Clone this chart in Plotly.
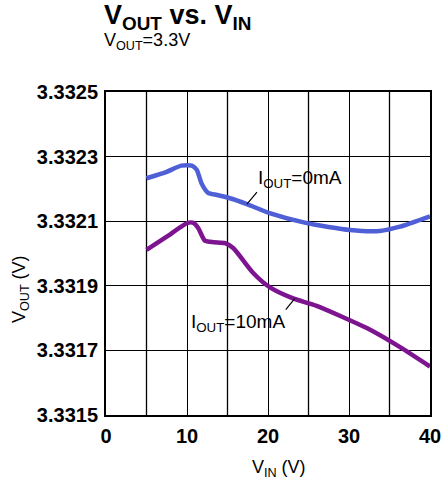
import plotly.graph_objects as go

vin_0mA = [5.0, 7.5, 9.3, 10.6, 11.2, 11.8, 12.6, 13.7, 15.3, 17.4, 20.2, 24.8, 30.1, 33.8, 36.3, 40.0]
vout_0mA = [3.332233, 3.332253, 3.332272, 3.332272, 3.332259, 3.332217, 3.332188, 3.332181,
            3.332171, 3.332153, 3.332125, 3.332094, 3.332073, 3.332070, 3.332083, 3.332115]

vin_10mA = [5.0, 7.5, 10.0, 10.8, 11.4, 12.2, 13.3, 14.7, 15.7, 18.2, 20.2, 23.1, 26.0, 32.2, 36.3, 40.0]
vout_10mA = [3.332011, 3.332052, 3.332094, 3.332095, 3.332078, 3.332040, 3.332035, 3.332032,
             3.332017, 3.331939, 3.331896, 3.331861, 3.331838, 3.331769, 3.331710, 3.331650]

x_ticks = [0, 10, 20, 30, 40]
y_ticks = [3.3315, 3.3317, 3.3319, 3.3321, 3.3323, 3.3325]

FONT = "Liberation Sans, Arial, sans-serif"

fig = go.Figure()
fig.add_trace(go.Scatter(x=vin_0mA, y=vout_0mA, mode="lines",
                         line=dict(color="#4f5fd6", width=4.5, shape="spline", smoothing=0.6),
                         showlegend=False, hoverinfo="skip"))
fig.add_trace(go.Scatter(x=vin_10mA, y=vout_10mA, mode="lines",
                         line=dict(color="#7d1490", width=4.5, shape="spline", smoothing=0.6),
                         showlegend=False, hoverinfo="skip"))

fig.update_layout(
    width=448, height=480,
    margin=dict(l=106, r=18, t=92, b=65),
    paper_bgcolor="white", plot_bgcolor="white",
    font=dict(family=FONT, color="black"),
    xaxis=dict(range=[0, 40], tickvals=x_ticks, ticktext=[str(v) for v in x_ticks],
               showgrid=True, gridcolor="black", gridwidth=1.3, automargin=False,
               showline=True, linecolor="black", linewidth=2, mirror=True,
               ticks="", ticklabelstandoff=2,
               tickfont=dict(size=20, family=FONT, weight="bold"),
               zeroline=False),
    yaxis=dict(range=[3.3315, 3.3325], tickvals=y_ticks, ticktext=[f"{v:.4f}" for v in y_ticks],
               showgrid=True, gridcolor="black", gridwidth=1.3, automargin=False,
               showline=True, linecolor="black", linewidth=2, mirror=True,
               ticks="", ticklabelstandoff=2,
               tickfont=dict(size=20, family=FONT, weight="bold"),
               zeroline=False),
)

# extra vertical gridlines every 5
for v in [5, 15, 25, 35]:
    fig.add_shape(type="line", xref="x", yref="paper", x0=v, x1=v, y0=0, y1=1,
                  line=dict(color="black", width=1.3), layer="below")

# titles
fig.add_annotation(text="<b>V<sub>OUT</sub> vs. V<sub>IN</sub></b>", xref="paper", yref="paper",
                   x=-0.012, y=1.232, xanchor="left", yanchor="middle",
                   showarrow=False, font=dict(size=27, family=FONT))
fig.add_annotation(text="V<sub>OUT</sub>=3.3V", xref="paper", yref="paper",
                   x=-0.012, y=1.156, xanchor="left", yanchor="middle",
                   showarrow=False, font=dict(size=18, family=FONT))

# axis titles
fig.add_annotation(text="V<sub>IN</sub> (V)", xref="paper", yref="paper",
                   x=0.535, y=0, xanchor="center", yanchor="middle", yshift=-53,
                   showarrow=False, font=dict(size=18, family=FONT))
fig.add_annotation(text="V<sub>OUT</sub> (V)", xref="paper", yref="paper",
                   x=0, y=0.39, xanchor="center", yanchor="middle", xshift=-86, textangle=-90,
                   showarrow=False, font=dict(size=18, family=FONT))

# curve labels
fig.add_annotation(text="I<sub>OUT</sub>=0mA", x=17.4, y=3.332153, ax=10, ay=-12,
                   xanchor="left", yanchor="bottom", showarrow=True, arrowhead=0,
                   arrowwidth=1.2, arrowcolor="black", font=dict(size=19, family=FONT),
                   standoff=0, borderpad=0)
fig.add_annotation(text="I<sub>OUT</sub>=10mA", x=23.3, y=3.33186, ax=-9, ay=11,
                   xanchor="right", yanchor="top", showarrow=True, arrowhead=0,
                   arrowwidth=1.2, arrowcolor="black", font=dict(size=19, family=FONT),
                   standoff=0, borderpad=0)

fig.write_html("out.html", config={"displayModeBar": False},
               post_script="document.body.style.margin='0';")
